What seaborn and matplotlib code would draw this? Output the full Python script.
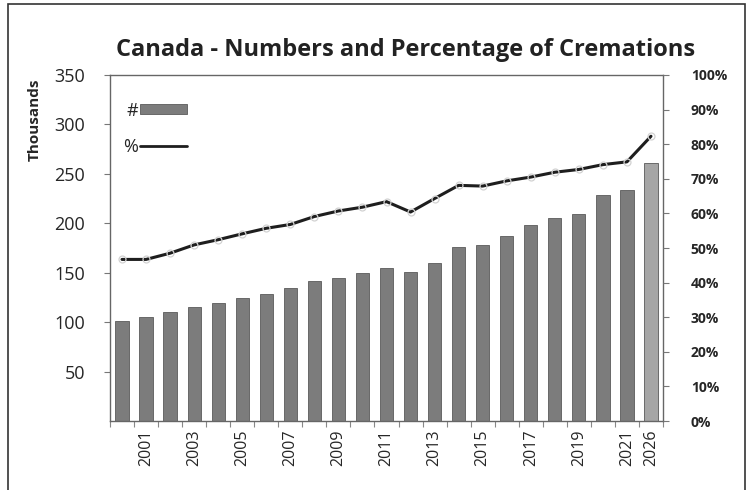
import numpy as np
import pandas as pd
import matplotlib
matplotlib.use("Agg")
import matplotlib.pyplot as plt
import seaborn as sns
from matplotlib.patches import Patch, Rectangle
from matplotlib.lines import Line2D

# ---- data ----
years = ["2000", "2001", "2002", "2003", "2004", "2005", "2006", "2007", "2008",
         "2009", "2010", "2011", "2012", "2013", "2014", "2015", "2016", "2017",
         "2018", "2019", "2020", "2021", "2026"]
cremations_thousands = [100.9, 105.4, 110.0, 115.8, 119.1, 124.9, 128.2, 134.9,
                        142.0, 145.0, 149.4, 154.9, 150.8, 159.5, 175.7, 178.4,
                        187.2, 198.3, 205.6, 209.4, 228.5, 233.2, 260.9]
cremation_percent = [46.7, 46.7, 48.5, 50.9, 52.4, 54.1, 55.7, 56.8, 59.1, 60.7,
                     61.8, 63.4, 60.4, 64.3, 68.1, 67.9, 69.4, 70.5, 71.9, 72.7,
                     74.1, 74.9, 82.3]
shown_year_labels = ["2001", "2003", "2005", "2007", "2009", "2011", "2013",
                     "2015", "2017", "2019", "2021", "2026"]
left_ticks = [50, 100, 150, 200, 250, 300, 350]
right_ticks = [0, 10, 20, 30, 40, 50, 60, 70, 80, 90, 100]

title = "Canada - Numbers and Percentage of Cremations"

sns.set_style("white")
plt.rcParams["font.family"] = ["Open Sans", "DejaVu Sans"]

W, H = 752, 490
fig = plt.figure(figsize=(W / 100, H / 100), dpi=100)
ax_l, ax_r, ax_t, ax_b = 110, 663, 75, 421
ax = fig.add_axes([ax_l / W, 1 - ax_b / H, (ax_r - ax_l) / W, (ax_b - ax_t) / H])

df = pd.DataFrame({"year": years, "num": cremations_thousands, "pct": cremation_percent})
bar_colors = ["#7c7c7c"] * (len(years) - 1) + ["#a6a6a6"]
sns.barplot(data=df, x="year", y="num", hue="year", palette=bar_colors,
            legend=False, width=0.55, ax=ax, edgecolor="#5a5a5a", linewidth=0.6,
            saturation=1)

ax.set_xlim(-0.5, len(years) - 0.5)
ax.set_ylim(0, 350)
ax.set_yticks(left_ticks)
ax.set_yticklabels([str(v) for v in left_ticks], fontsize=13)
ax.tick_params(axis="y", which="major", direction="out", length=4, width=0.8,
               color="#777777", pad=14, left=True)

# x ticks: labels at bar centres, tick marks between categories
pos = [years.index(y) for y in shown_year_labels]
ax.set_xticks(pos)
ax.set_xticklabels(shown_year_labels, rotation=90, fontsize=11.5)
ax.tick_params(axis="x", which="major", length=0, pad=6)
ax.set_xticks(np.arange(-0.5, len(years), 1.0), minor=True)
ax.tick_params(axis="x", which="minor", direction="out", length=4, width=0.8,
               color="#888888", bottom=True)
ax.set_xlabel("")
ax.set_ylabel("Thousands", fontsize=11, fontweight="bold")
ax.yaxis.set_label_coords((42 - ax_l) / (ax_r - ax_l), (ax_b - 120) / (ax_b - ax_t))

for s in ax.spines.values():
    s.set_color("#666666")
    s.set_linewidth(1.0)

ax2 = ax.twinx()
sns.lineplot(x=np.arange(len(years)), y=df["pct"], ax=ax2, color="#1e1e1e",
             linewidth=2.2, marker="o", markersize=5, markerfacecolor="none",
             markeredgecolor="#d2d2d2", markeredgewidth=0.9)
ax2.set_ylim(0, 100)
ax2.set_yticks(right_ticks)
ax2.set_yticklabels([f"{v}%" for v in right_ticks], fontsize=10, fontweight="bold")
ax2.tick_params(axis="y", direction="out", length=4, width=0.8, color="#777777",
                pad=16, right=True)
ax2.set_ylabel("")
for s in ax2.spines.values():
    s.set_visible(False)

handles = [Patch(facecolor="#7c7c7c", edgecolor="#5a5a5a", linewidth=0.6),
           Line2D([], [], color="#1e1e1e", linewidth=2.0)]
leg = ax2.legend(handles, ["#", "%"], loc="upper left", frameon=False,
                 markerfirst=False, handlelength=2.6, handleheight=0.45,
                 handletextpad=0.1, labelspacing=1.0, fontsize=13,
                 bbox_to_anchor=(-0.005, 0.97))

fig.text(406 / W, 1 - 50 / H, title, ha="center", va="center", fontsize=17,
         fontweight="bold", color="#222222")

fig.patches.append(Rectangle((8 / W, -0.1), (745 - 8) / W, 1 - 4 / H + 0.1,
                             transform=fig.transFigure, fill=False,
                             edgecolor="#333333", linewidth=1.2))

fig.savefig("out.png", dpi=100, facecolor="white")
